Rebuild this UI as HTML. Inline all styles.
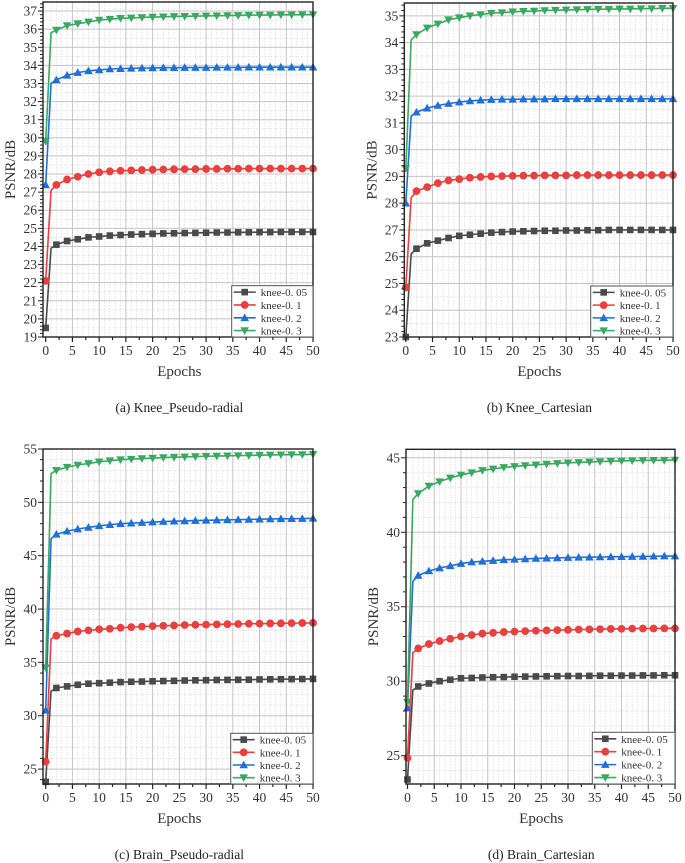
<!DOCTYPE html>
<html><head><meta charset="utf-8">
<style>
html,body{margin:0;padding:0;background:#fff;}
svg{display:block;font-family:"Liberation Serif","Noto Serif CJK SC",serif;}
</style></head>
<body>
<svg id="fig" width="685" height="863" viewBox="0 0 685 863" xmlns="http://www.w3.org/2000/svg"></svg>
<script>
const epochs = [0,1,2,4,6,8,10,12,14,16,18,20,22,24,26,28,30,32,34,36,38,40,42,44,46,48,50];
const seriesNames = ["knee-0. 05","knee-0. 1","knee-0. 2","knee-0. 3"];
const xTicks = [0,5,10,15,20,25,30,35,40,45,50];

const aBlack = [19.5,23.9,24.1,24.3,24.4,24.5,24.55,24.6,24.63,24.66,24.68,24.7,24.72,24.73,24.74,24.75,24.76,24.77,24.77,24.78,24.78,24.79,24.79,24.8,24.8,24.8,24.8];
const aRed   = [22.1,27.1,27.4,27.7,27.85,28.0,28.1,28.15,28.18,28.2,28.22,28.24,28.25,28.26,28.27,28.27,28.28,28.28,28.29,28.29,28.3,28.3,28.3,28.3,28.3,28.3,28.3];
const aBlue  = [27.4,33.0,33.2,33.45,33.6,33.7,33.75,33.8,33.82,33.84,33.85,33.86,33.87,33.87,33.88,33.88,33.88,33.89,33.89,33.89,33.9,33.9,33.9,33.9,33.9,33.9,33.9];
const aGreen = [29.8,35.8,35.95,36.2,36.3,36.4,36.5,36.55,36.6,36.62,36.65,36.67,36.68,36.7,36.71,36.72,36.73,36.74,36.75,36.76,36.77,36.78,36.78,36.79,36.79,36.8,36.8];
const aYTicks = [19,20,21,22,23,24,25,26,27,28,29,30,31,32,33,34,35,36,37];

const bBlack = [23.0,26.1,26.3,26.5,26.6,26.7,26.78,26.82,26.86,26.9,26.92,26.94,26.95,26.96,26.97,26.97,26.98,26.98,26.99,26.99,27.0,27.0,27.0,27.0,27.0,27.0,27.0];
const bRed   = [24.85,28.2,28.45,28.6,28.75,28.85,28.9,28.95,28.98,29.0,29.01,29.02,29.03,29.03,29.04,29.04,29.04,29.05,29.05,29.05,29.05,29.05,29.05,29.05,29.05,29.05,29.05];
const bBlue  = [28.0,31.25,31.4,31.55,31.65,31.72,31.78,31.82,31.85,31.87,31.88,31.88,31.89,31.89,31.89,31.9,31.9,31.9,31.9,31.9,31.9,31.9,31.9,31.9,31.9,31.9,31.9];
const bGreen = [29.3,34.1,34.3,34.55,34.7,34.85,34.93,35.0,35.05,35.1,35.12,35.15,35.17,35.18,35.2,35.21,35.22,35.23,35.24,35.25,35.25,35.26,35.26,35.27,35.27,35.28,35.28];
const bYTicks = [23,24,25,26,27,28,29,30,31,32,33,34,35];

const cBlack = [23.8,32.3,32.6,32.75,32.9,33.0,33.05,33.1,33.15,33.18,33.2,33.23,33.25,33.27,33.3,33.32,33.33,33.35,33.36,33.37,33.38,33.4,33.41,33.42,33.43,33.44,33.45];
const cRed   = [25.7,37.2,37.5,37.7,37.9,38.0,38.1,38.15,38.25,38.3,38.35,38.4,38.43,38.46,38.5,38.52,38.54,38.56,38.58,38.6,38.62,38.63,38.65,38.66,38.68,38.69,38.7];
const cBlue  = [30.5,46.6,47.0,47.3,47.5,47.65,47.8,47.9,48.0,48.05,48.1,48.15,48.2,48.23,48.26,48.29,48.32,48.34,48.36,48.38,48.4,48.42,48.44,48.46,48.47,48.48,48.5];
const cGreen = [34.5,52.7,53.0,53.3,53.5,53.65,53.8,53.9,54.0,54.05,54.1,54.15,54.2,54.23,54.26,54.29,54.32,54.34,54.36,54.38,54.4,54.42,54.44,54.46,54.47,54.48,54.5];
const cYTicks = [25,30,35,40,45,50,55];

const dBlack = [23.4,29.4,29.65,29.85,30.0,30.1,30.2,30.22,30.25,30.27,30.28,30.3,30.31,30.32,30.33,30.34,30.35,30.35,30.36,30.37,30.37,30.38,30.38,30.39,30.39,30.4,30.4];
const dRed   = [24.85,31.9,32.2,32.5,32.7,32.85,33.0,33.1,33.2,33.25,33.3,33.33,33.36,33.39,33.41,33.43,33.45,33.47,33.48,33.5,33.51,33.52,33.53,33.54,33.54,33.55,33.55];
const dBlue  = [28.2,36.7,37.1,37.4,37.6,37.75,37.9,38.0,38.05,38.1,38.15,38.18,38.21,38.24,38.26,38.28,38.3,38.32,38.33,38.34,38.35,38.36,38.37,38.38,38.39,38.4,38.4];
const dGreen = [28.6,42.2,42.6,43.1,43.4,43.65,43.85,44.0,44.15,44.25,44.35,44.42,44.48,44.53,44.58,44.62,44.66,44.69,44.72,44.75,44.77,44.79,44.81,44.82,44.83,44.84,44.85];
const dYTicks = [25,30,35,40,45];

const colors = ["#4a4a4a","#e8403f","#1f6fd6","#3aa860"];
const markers = ["square","circle","up","down"];
const NS = "http://www.w3.org/2000/svg";
const svg = document.getElementById("fig");

function mk(tag, attrs, parent){
  const e = document.createElementNS(NS, tag);
  for (const k in attrs) e.setAttribute(k, attrs[k]);
  (parent||svg).appendChild(e);
  return e;
}
function marker(g, type, cx, cy, col, s){
  let e;
  if (type==="square") e = mk("rect",{x:cx-s,y:cy-s,width:2*s,height:2*s,fill:col},g);
  else if (type==="circle") e = mk("circle",{cx:cx,cy:cy,r:s+0.6,fill:col},g);
  else if (type==="up") e = mk("polygon",{points:`${cx},${cy-s-1} ${cx-s-1},${cy+s} ${cx+s+1},${cy+s}`,fill:col},g);
  else e = mk("polygon",{points:`${cx},${cy+s+1} ${cx-s-1},${cy-s} ${cx+s+1},${cy-s}`,fill:col},g);
  return e;
}

const panels = [
 {id:"a", caption:"(a) Knee_Pseudo-radial", x0:45.7, x1:313, frameL:43, top:2, bottom:337, ymin:19, ymax:37.5, yTicks:aYTicks, yMinor:0.5, series:[aBlack,aRed,aBlue,aGreen], leg:[231.7,285.7,313,337]},
 {id:"b", caption:"(b) Knee_Cartesian", x0:405.8, x1:673, frameL:404.3, top:3, bottom:337, ymin:23, ymax:35.48, yTicks:bYTicks, yMinor:0.5, series:[bBlack,bRed,bBlue,bGreen], leg:[590.7,286,673,337]},
 {id:"c", caption:"(c) Brain_Pseudo-radial", x0:45.7, x1:313, frameL:43, top:449, bottom:784, ymin:23.6, ymax:55.0, yTicks:cYTicks, yMinor:1, series:[cBlack,cRed,cBlue,cGreen], leg:[230.7,733.3,313,784]},
 {id:"d", caption:"(d) Brain_Cartesian", x0:407.5, x1:675, frameL:406, top:449.3, bottom:784, ymin:23.1, ymax:45.57, yTicks:dYTicks, yMinor:1, series:[dBlack,dRed,dBlue,dGreen], leg:[592.3,732.3,675,784]}
];

panels.forEach(p=>{
  const g = mk("g",{});
  
  
  const xs = v => p.x0 + (v-0)/(50-0)*(p.x1-p.x0);
  const ys = v => p.bottom - (v-p.ymin)/(p.ymax-p.ymin)*(p.bottom-p.top);
  const L = p.frameL, R = p.x1, T = p.top, B = p.bottom;
  const grid = mk("g",{},g);
  
  
  // minor x grid
  for (let e=1;e<50;e++){
    if (e%5===0) continue;
    mk("line",{x1:xs(e),x2:xs(e),y1:T,y2:B,stroke:"#d8d8d8","stroke-width":0.7,"stroke-dasharray":"1.5,1.5"},grid);
  }
  // minor y grid
  const yt0 = p.yTicks[0], step = p.yTicks[1]-p.yTicks[0];
  for (let v=Math.ceil(p.ymin/p.yMinor)*p.yMinor; v<p.ymax; v+=p.yMinor){
    const vv = Math.round(v*100)/100;
    if (p.yTicks.indexOf(vv)>=0) continue;
    mk("line",{x1:L,x2:R,y1:ys(vv),y2:ys(vv),stroke:"#d8d8d8","stroke-width":0.7,"stroke-dasharray":"1.5,1.5"},grid);
  }
  xTicks.forEach(t=>{ if(t>0&&t<50) mk("line",{x1:xs(t),x2:xs(t),y1:T,y2:B,stroke:"#c4c4c4","stroke-width":1},grid); });
  p.yTicks.forEach(t=>{ mk("line",{x1:L,x2:R,y1:ys(t),y2:ys(t),stroke:"#c4c4c4","stroke-width":1},grid); });

  // series
  p.series.forEach((vals,si)=>{
    const sg = mk("g",{},g);
    
    
    const pts = vals.map((v,i)=>xs(epochs[i])+","+ys(v)).join(" ");
    mk("polyline",{points:pts,fill:"none",stroke:colors[si],"stroke-width":1.6},sg);
    vals.forEach((v,i)=>{
      if (epochs[i]===1) return;
      const m = marker(sg, markers[si], xs(epochs[i]), ys(v), colors[si], 3.3);
      
      
    });
  });

  // frame
  const fr = mk("rect",{x:L,y:T,width:R-L,height:B-T,fill:"none",stroke:"#222","stroke-width":1.4},g);
  
  

  // x ticks
  for (let e=0;e<=50;e+=2.5){
    const maj = e%5===0;
    mk("line",{x1:xs(e),x2:xs(e),y1:B,y2:B+(maj?5:3),stroke:"#222","stroke-width":1.2},g);
  }
  xTicks.forEach(t=>{
    const tx = mk("text",{x:xs(t),y:B+18,"text-anchor":"middle","font-size":"13.5",fill:"#333"},g);
    tx.textContent = t;
    
    
  });
  // y ticks
  const ms = p.yMinor===0.5 ? 0.2 : 1;
  for (let v=Math.ceil(p.ymin/ms)*ms; v<=p.ymax+1e-6; v+=ms){
    const vv = Math.round(v*100)/100;
    const maj = p.yTicks.indexOf(vv)>=0;
    mk("line",{x1:L-(maj?5:3),x2:L,y1:ys(vv),y2:ys(vv),stroke:"#222","stroke-width":1},g);
  }
  p.yTicks.forEach(t=>{
    const ty = mk("text",{x:L-6,y:ys(t)+4.5,"text-anchor":"end","font-size":"13.5",fill:"#333"},g);
    ty.textContent = t;
    
    
  });
  // axis titles
  const yl = mk("text",{x:0,y:0,"text-anchor":"middle","font-size":"15",fill:"#333",transform:`translate(${L-28},${(T+B)/2}) rotate(-90)`},g);
  yl.textContent = "PSNR/dB";
  
  
  const xl = mk("text",{x:(p.x0+p.x1)/2,y:B+39,"text-anchor":"middle","font-size":"15",fill:"#333"},g);
  xl.textContent = "Epochs";
  
  
  const cap = mk("text",{x:(p.x0+p.x1)/2,y:B+75,"text-anchor":"middle","font-size":"13.5",fill:"#222"},g);
  cap.textContent = p.caption;
  
  

  // legend
  const [lx0,ly0,lx1,ly1] = p.leg;
  const lg = mk("g",{},g);
  
  
  mk("rect",{x:lx0,y:ly0,width:lx1-lx0,height:ly1-ly0,fill:"#fff",stroke:"#555","stroke-width":1},lg);
  const rh = (ly1-ly0)/4;
  seriesNames.forEach((nm,si)=>{
    const cy = ly0 + rh*(si+0.5);
    const en = mk("g",{},lg);
    
    
    mk("line",{x1:lx0+2,x2:lx0+24,y1:cy,y2:cy,stroke:colors[si],"stroke-width":1.6},en);
    marker(en, markers[si], lx0+13, cy, colors[si], 3.3);
    const t = mk("text",{x:lx0+29,y:cy+4,"font-size":"11",fill:"#333"},en);
    t.textContent = nm;
  });
});
</script>
</body></html>
